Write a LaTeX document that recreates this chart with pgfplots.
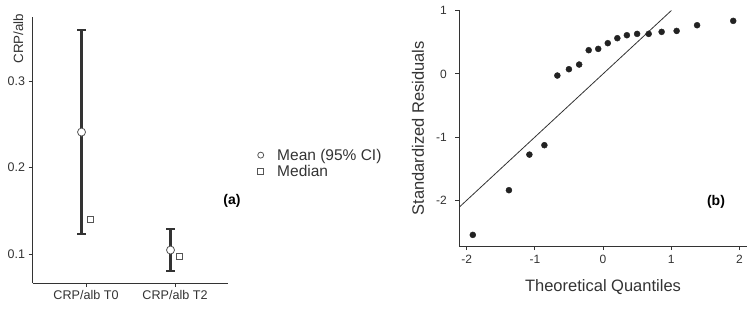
\documentclass[border=0pt]{standalone}
\usepackage{fontspec}
\setmainfont{Liberation Sans}
\usepackage{pgfplots}
\pgfplotsset{compat=1.18}
\definecolor{ink}{HTML}{333333}
\definecolor{mk}{HTML}{555555}
\definecolor{dot}{HTML}{222222}
\begin{document}
\begin{tikzpicture}[x=1bp,y=1bp]
\useasboundingbox (0,0) rectangle (752,308);
\begin{axis}[
  at={(32.5bp,25bp)}, anchor=south west,
  scale only axis, width=195.5bp, height=266bp,
  xmin=-0.601, xmax=1.596, ymin=0.067, ymax=0.3737,
  axis x line*=bottom, axis y line*=left,
  axis line style={ink, line width=1bp},
  tick align=outside, major tick length=4bp,
  tick style={ink, line width=0.8bp},
  xtick={0,1}, xticklabels={CRP/alb T0, CRP/alb T2},
  ytick={0.1,0.2,0.3}, yticklabels={0.1,0.2,0.3},
  tick label style={font=\fontsize{12.5bp}{14bp}\selectfont, text=ink},
  xticklabel style={font=\fontsize{12.6bp}{14bp}\selectfont},
  ylabel={CRP/alb},
  ylabel style={at={(axis description cs:-0.0726,1.026)}, anchor=east, font=\fontsize{13.4bp}{15bp}\selectfont, text=ink},
  clip=false, unbounded coords=jump,
  legend style={at={(axis description cs:1.151,0.511)}, anchor=north west, draw=none, fill=none,
    font=\fontsize{15.5bp}{17bp}\selectfont, text=ink, row sep=0.5bp, inner sep=0pt,
    nodes={inner sep=1.5bp},
    /tikz/every odd column/.append style={column sep=12bp}},
  legend cell align=left,
  legend image post style={mark size=3bp},
]
% 95% CI bars (lower, upper) for T0 and T2
\addplot[forget plot, ink, line width=2.2bp] coordinates {
  (-0.05,0.1234) (-0.05,0.359) (nan,nan)
  (0.95,0.081) (0.95,0.129)};
% CI caps
\addplot[forget plot, ink, line width=2.1bp] coordinates {
  (-0.096,0.359) (-0.004,0.359) (nan,nan)
  (-0.096,0.1234) (-0.004,0.1234) (nan,nan)
  (0.904,0.129) (0.996,0.129) (nan,nan)
  (0.904,0.081) (0.996,0.081)};
\addplot[only marks, mark=*, mark size=4bp, mark options={draw=mk, fill=white, line width=0.8bp}]
  coordinates {(-0.05,0.241) (0.95,0.105)};
\addlegendentry{Mean (95\% CI)}
\addplot[only marks, mark=square, mark size=3bp, mark options={draw=mk, fill=white, line width=0.8bp}]
  coordinates {(0.05,0.140) (1.05,0.098)};
\addlegendentry{Median}
\end{axis}

\begin{axis}[
  at={(459.3bp,62bp)}, anchor=south west,
  scale only axis, width=287.4bp, height=235.5bp,
  xmin=-2.108, xmax=2.108, ymin=-2.723, ymax=1.003,
  axis x line*=bottom, axis y line*=left,
  axis line style={ink, line width=1bp},
  tick align=outside, major tick length=4bp,
  tick style={ink, line width=0.8bp},
  xtick={-2,-1,0,1,2}, xticklabels={-2,-1,0,1,2},
  ytick={-2,-1,0,1}, yticklabels={-2,-1,0,1},
  tick label style={font=\fontsize{12bp}{14bp}\selectfont, text=ink},
  yticklabel style={xshift=-5bp},
  xticklabel style={yshift=-2bp},
  xlabel={Theoretical Quantiles},
  ylabel={Standardized Residuals},
  xlabel style={at={(axis description cs:0.5,-0.173)}, anchor=center, font=\fontsize{16.5bp}{18bp}\selectfont, text=ink},
  ylabel style={at={(axis description cs:-0.1437,0.5)}, anchor=center, font=\fontsize{16.5bp}{18bp}\selectfont, text=ink},
]
\addplot[ink, line width=0.8bp] coordinates {(-2.108,-2.108) (1.003,1.003)};
\addplot[only marks, mark=*, mark size=3bp, dot] table {
x y
-1.91 -2.547
-1.38 -1.84
-1.08 -1.277
-0.86 -1.128
-0.67 -0.026
-0.50 0.074
-0.35 0.148
-0.21 0.375
-0.07 0.396
0.07 0.486
0.21 0.565
0.35 0.612
0.50 0.633
0.67 0.633
0.86 0.665
1.08 0.68
1.38 0.77
1.91 0.839
};
\end{axis}

\node[font=\bfseries\fontsize{14bp}{16bp}\selectfont, text=black] at (232,107) {(a)};
\node[font=\bfseries\fontsize{14bp}{16bp}\selectfont, text=black] at (716,106) {(b)};
\end{tikzpicture}
\end{document}
